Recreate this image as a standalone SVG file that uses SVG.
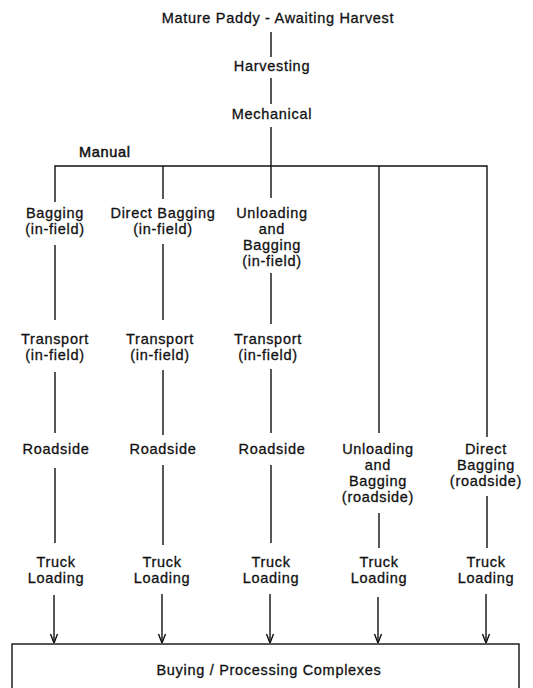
<svg xmlns="http://www.w3.org/2000/svg" width="533" height="688" viewBox="0 0 533 688">
<style>
text{font-family:"Liberation Sans",Arial,sans-serif;font-size:14.5px;letter-spacing:0.7px;fill:#111;stroke:#111;stroke-width:0.3;text-anchor:middle}
.l{stroke:#111;stroke-width:1.4;fill:none}
.a{stroke:#111;stroke-width:1.4;fill:none;marker-end:url(#ah)}
</style>
<defs>
<marker id="ah" viewBox="0 0 10 10" refX="10" refY="5" markerWidth="10" markerHeight="10" markerUnits="userSpaceOnUse" orient="auto">
<path d="M1,1.5 L10,5 L1,8.5" fill="none" stroke="#111" stroke-width="1.4"/>
</marker>
</defs>
<rect width="533" height="688" fill="#fff"/>
<g id="connectors">
<line class="l" x1="271" y1="32" x2="271" y2="57"/>
<line class="l" x1="271" y1="78" x2="271" y2="104"/>
<line class="l" x1="271" y1="127" x2="271" y2="166"/>
<polyline class="l" points="55,202 55,166 487,166 487,437"/>
<line class="l" x1="163" y1="166" x2="163" y2="199"/>
<line class="l" x1="271" y1="166" x2="271" y2="198"/>
<line class="l" x1="379" y1="166" x2="379" y2="433"/>
<line class="l" x1="55" y1="245" x2="55" y2="320"/>
<line class="l" x1="163" y1="244" x2="163" y2="320"/>
<line class="l" x1="271" y1="273" x2="271" y2="324"/>
<line class="l" x1="55" y1="372" x2="55" y2="433"/>
<line class="l" x1="163" y1="370" x2="163" y2="435"/>
<line class="l" x1="271" y1="369" x2="271" y2="433"/>
<line class="l" x1="55" y1="468" x2="55" y2="543"/>
<line class="l" x1="163" y1="465" x2="163" y2="545"/>
<line class="l" x1="271" y1="465" x2="271" y2="543"/>
<line class="l" x1="379" y1="513" x2="379" y2="548"/>
<line class="l" x1="487" y1="496" x2="487" y2="548"/>
<line class="a" x1="54" y1="595" x2="54" y2="643"/>
<line class="a" x1="162" y1="594" x2="162" y2="643"/>
<line class="a" x1="270" y1="594" x2="270" y2="643"/>
<line class="a" x1="378" y1="597" x2="378" y2="643"/>
<line class="a" x1="486" y1="594" x2="486" y2="643"/>
</g>
<g id="n-mature"><text x="278" y="23">Mature Paddy - Awaiting Harvest</text></g>
<g id="n-harvesting"><text x="272" y="71">Harvesting</text></g>
<g id="n-mechanical"><text x="272" y="119">Mechanical</text></g>
<g id="n-manual"><text x="79" y="157" style="text-anchor:start;stroke-width:0.5">Manual</text></g>
<g id="n-bag1"><text x="55" y="218">Bagging</text><text x="55" y="234">(in-field)</text></g>
<g id="n-bag2"><text x="163" y="218">Direct Bagging</text><text x="163" y="234">(in-field)</text></g>
<g id="n-bag3"><text x="272" y="218">Unloading</text><text x="272" y="234">and</text><text x="272" y="250">Bagging</text><text x="272" y="266">(in-field)</text></g>
<g id="n-tr1"><text x="55" y="344">Transport</text><text x="55" y="360">(in-field)</text></g>
<g id="n-tr2"><text x="160" y="344">Transport</text><text x="160" y="360">(in-field)</text></g>
<g id="n-tr3"><text x="268" y="344">Transport</text><text x="268" y="360">(in-field)</text></g>
<g id="n-rs1"><text x="56" y="454">Roadside</text></g>
<g id="n-rs2"><text x="163" y="454">Roadside</text></g>
<g id="n-rs3"><text x="272" y="454">Roadside</text></g>
<g id="n-ub"><text x="378" y="454">Unloading</text><text x="378" y="470">and</text><text x="378" y="486">Bagging</text><text x="378" y="502">(roadside)</text></g>
<g id="n-db"><text x="486" y="454">Direct</text><text x="486" y="470">Bagging</text><text x="486" y="486">(roadside)</text></g>
<g id="n-tl1"><text x="56" y="567">Truck</text><text x="56" y="583">Loading</text></g>
<g id="n-tl2"><text x="162" y="567">Truck</text><text x="162" y="583">Loading</text></g>
<g id="n-tl3"><text x="271" y="567">Truck</text><text x="271" y="583">Loading</text></g>
<g id="n-tl4"><text x="379" y="567">Truck</text><text x="379" y="583">Loading</text></g>
<g id="n-tl5"><text x="486" y="567">Truck</text><text x="486" y="583">Loading</text></g>
<g id="n-buying"><rect x="12" y="644" width="507" height="60" fill="none" stroke="#111" stroke-width="1.4"/><text x="269" y="675">Buying / Processing Complexes</text></g>
</svg>
